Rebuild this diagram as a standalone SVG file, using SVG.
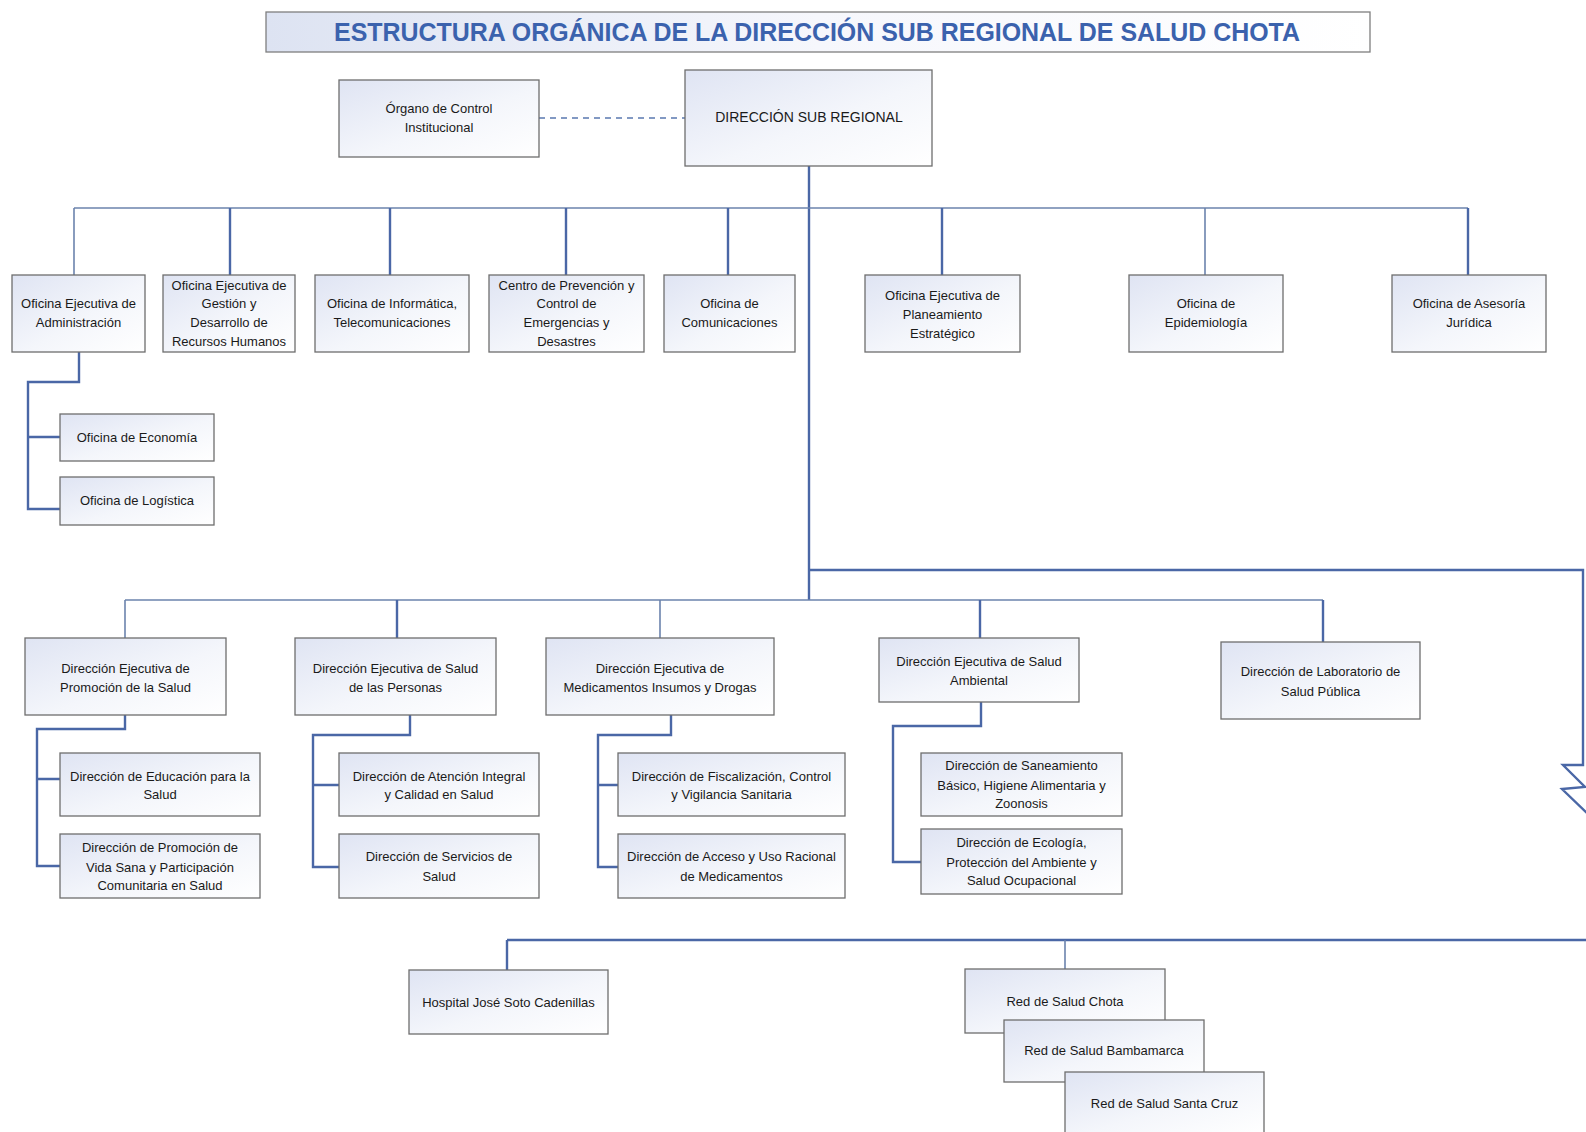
<svg xmlns="http://www.w3.org/2000/svg" width="1586" height="1132" viewBox="0 0 1586 1132">
<defs>
<linearGradient id="bg" x1="0" y1="0" x2="1" y2="1">
<stop offset="0" stop-color="#dfe4f3"/>
<stop offset="0.55" stop-color="#f4f6fb"/>
<stop offset="1" stop-color="#ffffff"/>
</linearGradient>
<linearGradient id="tg" x1="0" y1="0" x2="1" y2="0">
<stop offset="0" stop-color="#dde3f2"/>
<stop offset="0.5" stop-color="#f6f7fc"/>
<stop offset="1" stop-color="#ffffff"/>
</linearGradient>
<style>
.box{fill:url(#bg);stroke:#6e6e6e;stroke-width:1.3}
.t{font-family:"Liberation Sans",Arial,sans-serif;font-size:13px;fill:#1a1a1a;text-anchor:middle}
.big{font-size:14px}
.title{font-family:"Liberation Sans",Arial,sans-serif;font-weight:bold;font-size:26px;fill:#3b62ad;text-anchor:middle}
.bus{fill:none;stroke:#6b83ad;stroke-width:1.6}
.drop{fill:none;stroke:#4a67a6;stroke-width:2.4}
.dash{fill:none;stroke:#5a78b0;stroke-width:1.6;stroke-dasharray:6 5}
</style>
</defs>
<rect width="1586" height="1132" fill="#ffffff"/>

<g id="title">
<rect x="266" y="12" width="1104" height="40" fill="url(#tg)" stroke="#7f7f7f" stroke-width="1.3"/>
<text class="title" x="817" y="41" textLength="966" lengthAdjust="spacingAndGlyphs">ESTRUCTURA ORGÁNICA DE LA DIRECCIÓN SUB REGIONAL DE SALUD CHOTA</text>
</g>

<g id="connectors">
<line class="dash" x1="539" y1="118" x2="685" y2="118"/>
<line class="drop" x1="809" y1="166" x2="809" y2="600"/>
<line class="bus" x1="74" y1="208" x2="1468" y2="208"/>
<line class="bus" x1="74" y1="208" x2="74" y2="275"/>
<line class="drop" x1="230" y1="208" x2="230" y2="275"/>
<line class="drop" x1="390" y1="208" x2="390" y2="275"/>
<line class="drop" x1="566" y1="208" x2="566" y2="275"/>
<line class="drop" x1="728" y1="208" x2="728" y2="275"/>
<line class="drop" x1="942" y1="208" x2="942" y2="275"/>
<line class="bus" x1="1205" y1="208" x2="1205" y2="275"/>
<line class="drop" x1="1468" y1="208" x2="1468" y2="275"/>
<path class="drop" d="M79 352 V382 H28 V509 H60 M28 437 H60"/>
<line class="bus" x1="125" y1="600" x2="1323" y2="600"/>
<line class="bus" x1="125" y1="600" x2="125" y2="638"/>
<line class="drop" x1="397" y1="600" x2="397" y2="638"/>
<line class="bus" x1="660" y1="600" x2="660" y2="638"/>
<line class="drop" x1="980" y1="600" x2="980" y2="638"/>
<line class="drop" x1="1323" y1="600" x2="1323" y2="642"/>
<path class="drop" d="M125 715 V729 H37 V866 H60 M37 779 H60"/>
<path class="drop" d="M410 715 V735 H313 V867 H339 M313 785 H339"/>
<path class="drop" d="M671 715 V735 H598 V867 H618 M598 785 H618"/>
<path class="drop" d="M981 702 V726 H893 V862 H921"/>
<path class="drop" d="M809 570 H1583 V765 H1563 L1585 787 L1562 789 L1590 816"/>
<line class="drop" x1="507" y1="940" x2="1586" y2="940"/>
<line class="drop" x1="507" y1="940" x2="507" y2="970"/>
<line class="bus" x1="1065" y1="940" x2="1065" y2="969"/>
</g>

<g id="organo-control">
<rect class="box" x="339" y="80" width="200" height="77"/>
<text class="t" x="439" y="112.5">Órgano de Control</text>
<text class="t" x="439" y="132">Institucional</text>
</g>
<g id="direccion-sub-regional">
<rect class="box" x="685" y="70" width="247" height="96"/>
<text class="t big" x="809" y="122">DIRECCIÓN SUB REGIONAL</text>
</g>

<g id="of-administracion">
<rect class="box" x="12" y="275" width="133" height="77"/>
<text class="t" x="78.5" y="308">Oficina Ejecutiva de</text>
<text class="t" x="78.5" y="327">Administración</text>
</g>
<g id="of-rrhh">
<rect class="box" x="163" y="275" width="132" height="77"/>
<text class="t" x="229" y="289.5">Oficina Ejecutiva de</text>
<text class="t" x="229" y="308">Gestión y</text>
<text class="t" x="229" y="327">Desarrollo de</text>
<text class="t" x="229" y="345.5">Recursos Humanos</text>
</g>
<g id="of-informatica">
<rect class="box" x="315" y="275" width="154" height="77"/>
<text class="t" x="392" y="308">Oficina de Informática,</text>
<text class="t" x="392" y="327">Telecomunicaciones</text>
</g>
<g id="centro-emergencias">
<rect class="box" x="489" y="275" width="155" height="77"/>
<text class="t" x="566.5" y="289.5">Centro de Prevención y</text>
<text class="t" x="566.5" y="308">Control de</text>
<text class="t" x="566.5" y="327">Emergencias y</text>
<text class="t" x="566.5" y="345.5">Desastres</text>
</g>
<g id="of-comunicaciones">
<rect class="box" x="664" y="275" width="131" height="77"/>
<text class="t" x="729.5" y="308">Oficina de</text>
<text class="t" x="729.5" y="327">Comunicaciones</text>
</g>
<g id="of-planeamiento">
<rect class="box" x="865" y="275" width="155" height="77"/>
<text class="t" x="942.5" y="300">Oficina Ejecutiva de</text>
<text class="t" x="942.5" y="319">Planeamiento</text>
<text class="t" x="942.5" y="337.5">Estratégico</text>
</g>
<g id="of-epidemiologia">
<rect class="box" x="1129" y="275" width="154" height="77"/>
<text class="t" x="1206" y="308">Oficina de</text>
<text class="t" x="1206" y="327">Epidemiología</text>
</g>
<g id="of-asesoria">
<rect class="box" x="1392" y="275" width="154" height="77"/>
<text class="t" x="1469" y="308">Oficina de Asesoría</text>
<text class="t" x="1469" y="327">Jurídica</text>
</g>

<g id="of-economia">
<rect class="box" x="60" y="414" width="154" height="47"/>
<text class="t" x="137" y="441.5">Oficina de Economía</text>
</g>
<g id="of-logistica">
<rect class="box" x="60" y="477" width="154" height="48"/>
<text class="t" x="137" y="505">Oficina de Logística</text>
</g>

<g id="de-promocion">
<rect class="box" x="25" y="638" width="201" height="77"/>
<text class="t" x="125.5" y="673">Dirección Ejecutiva de</text>
<text class="t" x="125.5" y="691.5">Promoción de la Salud</text>
</g>
<g id="de-personas">
<rect class="box" x="295" y="638" width="201" height="77"/>
<text class="t" x="395.5" y="673">Dirección Ejecutiva de Salud</text>
<text class="t" x="395.5" y="691.5">de las Personas</text>
</g>
<g id="de-medicamentos">
<rect class="box" x="546" y="638" width="228" height="77"/>
<text class="t" x="660" y="673">Dirección Ejecutiva de</text>
<text class="t" x="660" y="691.5">Medicamentos Insumos y Drogas</text>
</g>
<g id="de-ambiental">
<rect class="box" x="879" y="638" width="200" height="64"/>
<text class="t" x="979" y="666">Dirección Ejecutiva de Salud</text>
<text class="t" x="979" y="684.5">Ambiental</text>
</g>
<g id="d-laboratorio">
<rect class="box" x="1221" y="642" width="199" height="77"/>
<text class="t" x="1320.5" y="676">Dirección de Laboratorio de</text>
<text class="t" x="1320.5" y="695.5">Salud Pública</text>
</g>

<g id="d-educacion">
<rect class="box" x="60" y="753" width="200" height="63"/>
<text class="t" x="160" y="780.5">Dirección de Educación para la</text>
<text class="t" x="160" y="798.5">Salud</text>
</g>
<g id="d-vida-sana">
<rect class="box" x="60" y="834" width="200" height="64"/>
<text class="t" x="160" y="852">Dirección de Promoción de</text>
<text class="t" x="160" y="871.5">Vida Sana y Participación</text>
<text class="t" x="160" y="889.5">Comunitaria en Salud</text>
</g>
<g id="d-atencion">
<rect class="box" x="339" y="753" width="200" height="63"/>
<text class="t" x="439" y="780.5">Dirección de Atención Integral</text>
<text class="t" x="439" y="798.5">y Calidad en Salud</text>
</g>
<g id="d-servicios">
<rect class="box" x="339" y="834" width="200" height="64"/>
<text class="t" x="439" y="861">Dirección de Servicios de</text>
<text class="t" x="439" y="880.5">Salud</text>
</g>
<g id="d-fiscalizacion">
<rect class="box" x="618" y="753" width="227" height="63"/>
<text class="t" x="731.5" y="780.5">Dirección de Fiscalización, Control</text>
<text class="t" x="731.5" y="798.5">y Vigilancia Sanitaria</text>
</g>
<g id="d-acceso">
<rect class="box" x="618" y="834" width="227" height="64"/>
<text class="t" x="731.5" y="861">Dirección de Acceso y Uso Racional</text>
<text class="t" x="731.5" y="880.5">de Medicamentos</text>
</g>
<g id="d-saneamiento">
<rect class="box" x="921" y="753" width="201" height="63"/>
<text class="t" x="1021.5" y="770">Dirección de Saneamiento</text>
<text class="t" x="1021.5" y="789.5">Básico, Higiene Alimentaria y</text>
<text class="t" x="1021.5" y="807.5">Zoonosis</text>
</g>
<g id="d-ecologia">
<rect class="box" x="921" y="829" width="201" height="65"/>
<text class="t" x="1021.5" y="847">Dirección de Ecología,</text>
<text class="t" x="1021.5" y="866.5">Protección del Ambiente y</text>
<text class="t" x="1021.5" y="884.5">Salud Ocupacional</text>
</g>

<g id="hospital">
<rect class="box" x="409" y="970" width="199" height="64"/>
<text class="t" x="508.5" y="1007">Hospital José Soto Cadenillas</text>
</g>
<g id="red-chota">
<rect class="box" x="965" y="969" width="200" height="64"/>
<text class="t" x="1065" y="1006">Red de Salud Chota</text>
</g>
<g id="red-bambamarca">
<rect class="box" x="1004" y="1020" width="200" height="62"/>
<text class="t" x="1104" y="1054.5">Red de Salud Bambamarca</text>
</g>
<g id="red-santa-cruz">
<rect class="box" x="1065" y="1072" width="199" height="62"/>
<text class="t" x="1164.5" y="1108">Red de Salud Santa Cruz</text>
</g>
</svg>
